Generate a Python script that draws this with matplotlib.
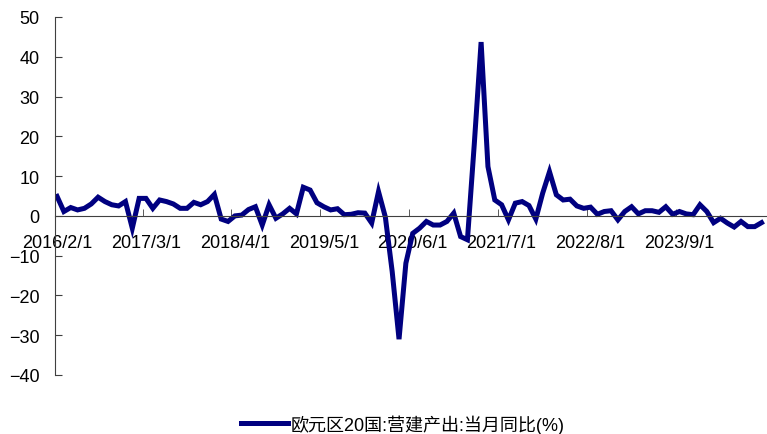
import matplotlib
matplotlib.use("Agg")
import matplotlib.pyplot as plt
import pandas as pd

plt.rcParams['font.family'] = ['Liberation Sans', 'Noto Sans CJK SC', 'DejaVu Sans']

# 欧元区20国 营建产出 当月同比 (%), monthly from 2016/2
start_month = '2016-02-01'
yoy = [4.9, 1.1, 2.1, 1.5, 1.9, 3.0, 4.7, 3.6, 2.8, 2.5, 3.6, -3.1,
       4.4, 4.4, 1.9, 4.0, 3.6, 3.0, 1.9, 1.9, 3.4, 2.8, 3.6, 5.4,
       -0.8, -1.4, 0.0, 0.2, 1.6, 2.3, -2.3, 2.8, -0.6, 0.5, 1.9, 0.5,
       7.2, 6.5, 3.3, 2.3, 1.5, 1.8, 0.3, 0.4, 0.8, 0.7, -1.8, 6.1,
       -0.3, -14.0, -31.0, -11.9, -4.4, -3.1, -1.4, -2.3, -2.3, -1.4, 0.7, -5.2,
       -6.0, 18.0, 43.7, 12.4, 4.0, 2.8, -1.0, 3.2, 3.6, 2.6, -0.8, 5.7,
       11.1, 5.3, 4.0, 4.2, 2.5, 1.9, 2.2, 0.4, 1.1, 1.3, -1.0, 1.1,
       2.3, 0.5, 1.3, 1.3, 0.9, 2.3, 0.4, 1.1, 0.5, 0.3, 2.8, 1.1,
       -1.7, -0.6, -1.8, -2.8, -1.4, -2.7, -2.7, -1.7]
label_step = 13
y_ticks = [50, 40, 30, 20, 10, 0, -10, -20, -30, -40]
series_name = '欧元区20国:营建产出:当月同比(%)'

months = pd.date_range(start_month, periods=len(yoy), freq='MS')
x = list(range(len(yoy)))
label_pos = x[::label_step]
labels = [f"{months[i].year}/{months[i].month}/1" for i in label_pos]

fig = plt.figure(figsize=(7.67, 4.35), dpi=100)
ax = fig.add_axes([55 / 767, 1 - 376 / 435, 1 - 55 / 767, (376 - 18) / 435])

ax.plot(x, yoy, color='#000080', lw=3.6, label=series_name, solid_joinstyle='miter')

ax.set_ylim(-40, 50)
ax.set_xlim(-0.3, 103.8)
ax.set_yticks(y_ticks)
ax.set_xticks(label_pos)
ax.set_xticklabels(labels)
ax.set_xticks([p - 0.5 for p in label_pos[1:]], minor=True)

for s in ['top', 'right']:
    ax.spines[s].set_visible(False)
ax.spines['bottom'].set_position(('data', 0))
ax.spines['bottom'].set_color('#404040')
ax.spines['left'].set_color('#404040')

ax.tick_params(axis='y', direction='in', length=5, pad=11, labelsize=13, color='#404040')
ax.tick_params(axis='x', which='major', length=0, pad=13, labelsize=13)
ax.tick_params(axis='x', which='minor', direction='in', length=5, color='#404040')

ax.legend(loc='center', bbox_to_anchor=(0.525, 0.023), bbox_transform=fig.transFigure,
          frameon=False, fontsize=13, handlelength=2.6, handletextpad=0.15)

fig.savefig('out.png', dpi=100)
